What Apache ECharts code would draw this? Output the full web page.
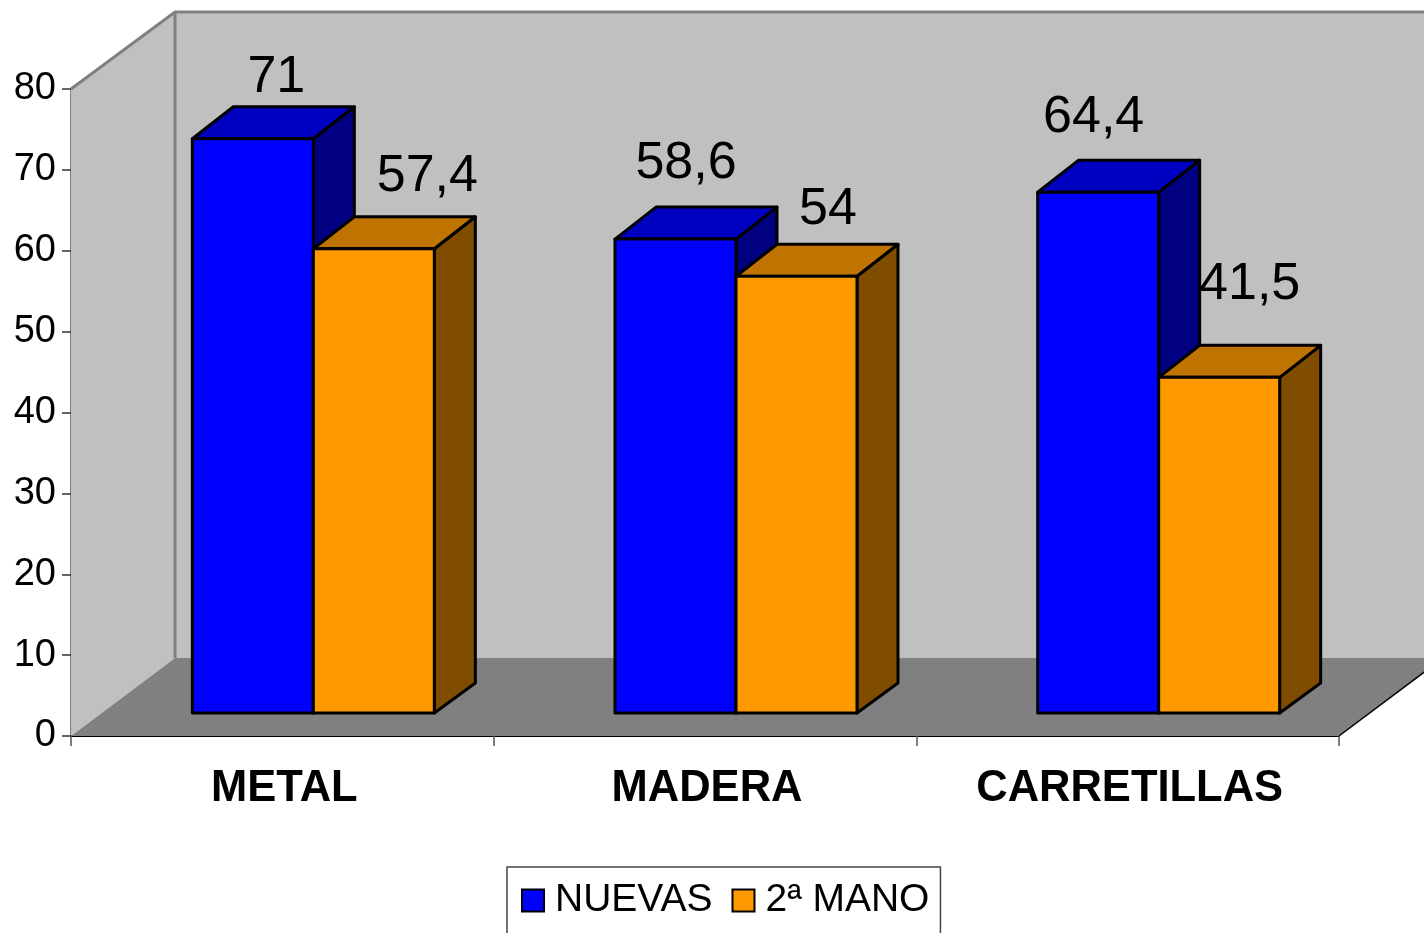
<!DOCTYPE html>
<html>
<head>
<meta charset="utf-8">
<style>html,body{margin:0;padding:0;background:#fff;overflow:hidden}#c{width:1424px;height:933px}</style>
<script src="https://cdn.jsdelivr.net/npm/echarts@6/dist/echarts.min.js"></script>
</head>
<body>
<div id="c"></div>
<script>
var categories = ['METAL', 'MADERA', 'CARRETILLAS'];
var nuevas = [71, 58.6, 64.4];
var segundaMano = [57.4, 54, 41.5];
var yTicks = [0, 80, 10];

var FONT = '"Liberation Sans", Arial, sans-serif';
var WALL = { dx: 104, dyTop: 77, dyFloor: 78 };
var BAR = { dx: 41, dy: 32, dyBase: 30, width: 121, shift: 31, lift: 23 };
// hand-placed data labels in the reference: centre offset from the bar's top-left corner
var nudgeN = [[84, -61], [71, -75], [56, -75]];
var nudgeS = [[114, -72], [92, -67], [91, -93]];

function barSeries(name, values, colors, slot, nudge) {
  return {
    name: name,
    type: 'custom',
    z: 3,
    itemStyle: { color: colors.front },
    data: values.map(function (v, i) { return [i, v]; }),
    renderItem: function (params, api) {
      var i = api.value(0), v = api.value(1);
      var cx = api.coord([i, 0])[0];
      var base = api.coord([i, 0])[1] - BAR.lift;
      var h = api.coord([i, 0])[1] - api.coord([i, v])[1];
      var x0 = cx + BAR.shift - BAR.width + slot * BAR.width;
      var x1 = x0 + BAR.width, top = base - h;
      var line = { stroke: '#000', lineWidth: 3, lineJoin: 'round' };
      function poly(pts, fill) {
        return { type: 'polygon', shape: { points: pts }, style: Object.assign({ fill: fill }, line) };
      }
      return {
        type: 'group',
        children: [
          poly([[x1, top], [x1 + BAR.dx, top - BAR.dy], [x1 + BAR.dx, base - BAR.dyBase], [x1, base]], colors.side),
          poly([[x0, top], [x0 + BAR.dx, top - BAR.dy], [x1 + BAR.dx, top - BAR.dy], [x1, top]], colors.top),
          poly([[x0, top], [x1, top], [x1, base], [x0, base]], colors.front),
          {
            type: 'text', z2: 100,
            style: {
              text: String(v).replace('.', ','),
              x: x0 + nudge[i][0], y: top + nudge[i][1],
              align: 'center', verticalAlign: 'middle',
              font: '52px ' + FONT, fill: '#000'
            }
          }
        ]
      };
    }
  };
}

var wallSeries = {
  name: 'walls',
  type: 'custom',
  z: 1,
  silent: true,
  data: [[0, 0]],
  renderItem: function (params) {
    var g = params.coordSys, L = g.x, R = g.x + g.width, T = g.y, B = g.y + g.height;
    var dx = WALL.dx, dt = WALL.dyTop, df = WALL.dyFloor;
    return {
      type: 'group',
      children: [
        { type: 'polygon', shape: { points: [[L + dx, T - dt], [R + dx, T - dt], [R + dx, B - df], [L + dx, B - df]] }, style: { fill: '#c0c0c0' } },
        { type: 'polygon', shape: { points: [[L, T], [L + dx, T - dt], [L + dx, B - df], [L, B]] }, style: { fill: '#c0c0c0' } },
        { type: 'polyline', shape: { points: [[L, T], [L + dx, T - dt], [R + dx, T - dt]] }, style: { fill: 'none', stroke: '#808080', lineWidth: 3 } },
        { type: 'line', shape: { x1: L + dx, y1: T - dt, x2: L + dx, y2: B - df }, style: { stroke: '#808080', lineWidth: 3 } },
        { type: 'polygon', shape: { points: [[L, B], [L + dx, B - df], [R + dx, B - df], [R, B]] }, style: { fill: '#808080' } },
        { type: 'line', shape: { x1: R, y1: B, x2: R + dx, y2: B - df }, style: { stroke: '#000', lineWidth: 1.5 } }
      ]
    };
  }
};

var chart = echarts.init(document.getElementById('c'), null, { renderer: 'canvas' });
chart.setOption({
  animation: false,
  backgroundColor: '#fff',
  grid: { left: 71, right: 85, top: 89, bottom: 197, containLabel: false },
  legend: {
    left: 507, top: 867,
    data: ['NUEVAS', '2ª MANO'],
    icon: 'rect',
    itemWidth: 22, itemHeight: 22, itemGap: 19,
    padding: [14, 11, 40, 14],
    borderColor: '#444', borderWidth: 1.5,
    selectedMode: false,
    itemStyle: { borderColor: '#000', borderWidth: 2 },
    textStyle: { fontFamily: FONT, fontSize: 39, color: '#000', padding: [2, 0, 0, 6] }
  },
  xAxis: {
    type: 'category',
    data: categories,
    axisLine: { show: true, lineStyle: { color: '#000', width: 2 } },
    axisTick: { show: true, alignWithLabel: false, length: 10, lineStyle: { color: '#555', width: 1.5 } },
    axisLabel: { margin: 31, padding: [0, 0, 0, 4], fontFamily: FONT, fontSize: 43.5, fontWeight: 'bold', color: '#000' },
    splitLine: { show: false }
  },
  yAxis: {
    type: 'value',
    min: yTicks[0], max: yTicks[1], interval: yTicks[2],
    axisLine: { show: true, lineStyle: { color: '#808080', width: 2 } },
    axisTick: { show: true, length: 9, lineStyle: { color: '#333', width: 1.5 } },
    axisLabel: { margin: 15, padding: [3, 0, 0, 0], fontFamily: FONT, fontSize: 38, color: '#000' },
    splitLine: { show: false }
  },
  series: [
    wallSeries,
    barSeries('NUEVAS', nuevas, { front: '#0000ff', top: '#0000c0', side: '#000080' }, 0, nudgeN),
    barSeries('2ª MANO', segundaMano, { front: '#ff9900', top: '#bf7300', side: '#804d00' }, 1, nudgeS)
  ]
});
</script>
</body>
</html>
